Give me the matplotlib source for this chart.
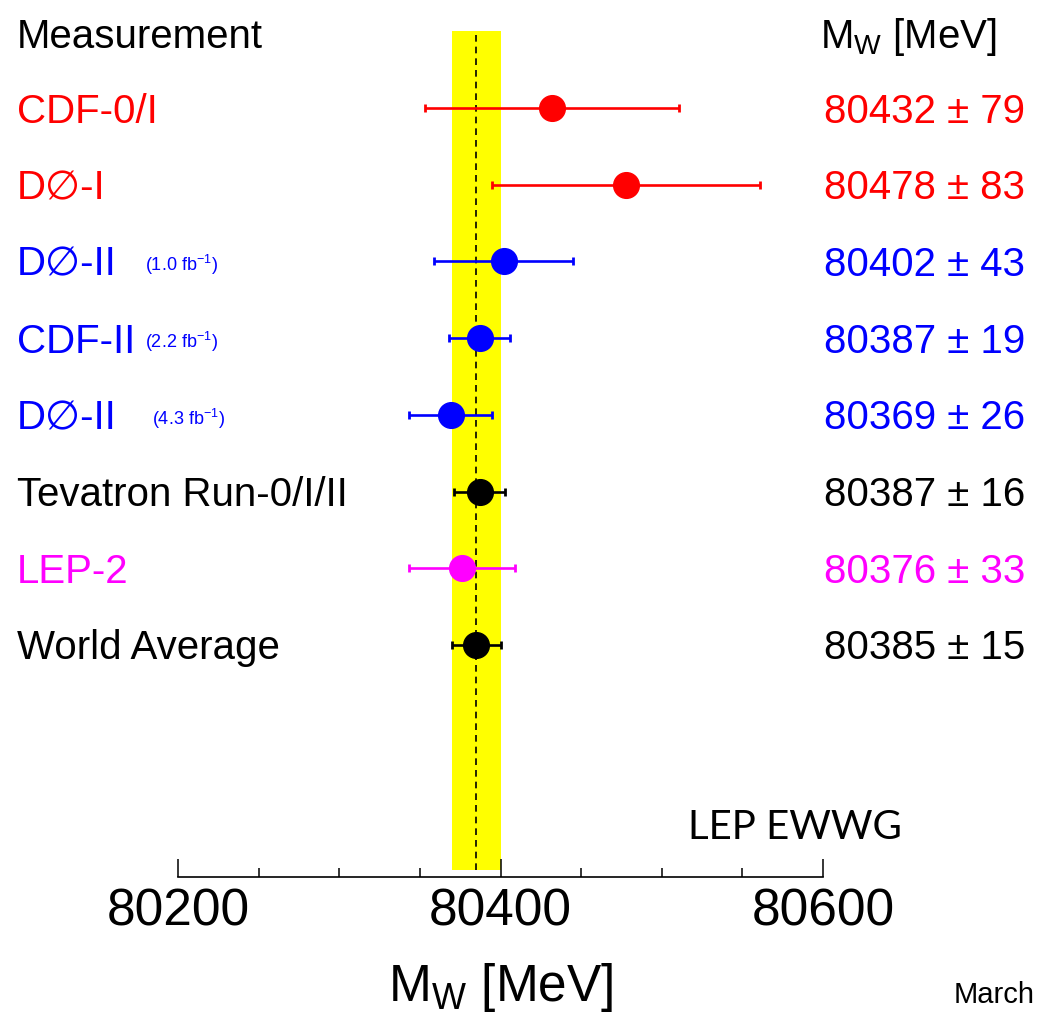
import matplotlib
matplotlib.use("Agg")
import matplotlib.pyplot as plt
import matplotlib.transforms as mtransforms

plt.rcParams['font.family'] = ['Liberation Sans', 'DejaVu Sans']
plt.rcParams['mathtext.fontset'] = 'custom'
plt.rcParams['mathtext.rm'] = 'Liberation Sans'
plt.rcParams['mathtext.it'] = 'Liberation Sans:italic'
plt.rcParams['mathtext.default'] = 'regular'

# measurements of the W mass
labels = ['CDF-0/I', 'D\u2205-I', 'D\u2205-II', 'CDF-II', 'D\u2205-II',
          'Tevatron Run-0/I/II', 'LEP-2', 'World Average']
notes = ['', '', '(1.0 fb$^{-1}$)', '(2.2 fb$^{-1}$)', '(4.3 fb$^{-1}$)', '', '', '']
mw = [80432, 80478, 80402, 80387, 80369, 80387, 80376, 80385]
err = [79, 83, 43, 19, 26, 16, 33, 15]
colors = ['red', 'red', 'blue', 'blue', 'blue', 'black', 'magenta', 'black']
wa, wa_err = 80385, 15

W, H = 1041, 1018
fig = plt.figure(figsize=(W / 100, H / 100), dpi=100)
ax = fig.add_axes([178 / W, 1 - 877 / H, 645 / W, 846 / H])

row_px = 76.7
ax.set_xlim(80200, 80600)
ax.set_ylim((877 - 108) / row_px, (31 - 108) / row_px)

ax.axvspan(wa - wa_err, wa + wa_err, ymin=7 / 846, ymax=1, color='yellow', lw=0, zorder=0)
ax.axvline(wa, ymin=7 / 846, ymax=1, color='black', ls=(0, (4, 3)), lw=1.2, zorder=1)

for i in range(len(mw)):
    ax.errorbar(mw[i], i, xerr=err[i], fmt='o', color=colors[i], ms=18.5,
                elinewidth=1.9, capsize=3, capthick=2, zorder=3)

for s in ['top', 'left', 'right']:
    ax.spines[s].set_visible(False)
ax.spines['bottom'].set_linewidth(1.2)
ax.set_yticks([])
ax.set_xticks([80200, 80400, 80600])
ax.set_xticks(range(80250, 80600, 50), minor=True)
ax.tick_params(axis='x', which='major', direction='in', length=13, width=1.1,
               labelsize=37, pad=7.5)
ax.tick_params(axis='x', which='minor', direction='in', length=6.5, width=1.1)
ax.set_xlabel('M$_{W}$ [MeV]', fontsize=37, labelpad=18)

tr = mtransforms.blended_transform_factory(fig.transFigure, ax.transData)
base = 14.5 / row_px
ax.text(17 / W, -0.97 + base, 'Measurement', transform=tr, fontsize=29, va='baseline')
ax.text(997 / W, -0.97 + base, 'M$_{W}$ [MeV]', transform=tr, fontsize=29,
        va='baseline', ha='right')
note_x = [0, 0, 145, 145, 152, 0, 0, 0]
for i in range(len(mw)):
    ax.text(17 / W, i + base, labels[i], transform=tr, fontsize=29,
            color=colors[i], va='baseline')
    if notes[i]:
        ax.text(note_x[i] / W, i + base - 0.06, notes[i], transform=tr, fontsize=13,
                color=colors[i], va='baseline')
    ax.text(1025 / W, i + base, '%d \u00b1 %d' % (mw[i], err[i]), transform=tr,
            fontsize=29, color=colors[i], va='baseline', ha='right')

fig.text(688 / W, 1 - 839 / H, 'LEP EWWG', fontsize=29, family='Lato', va='baseline')
fig.text(1035 / W, 1 - 1003 / H, 'March', fontsize=21, va='baseline', ha='right')

fig.savefig('out.png', dpi=100)
